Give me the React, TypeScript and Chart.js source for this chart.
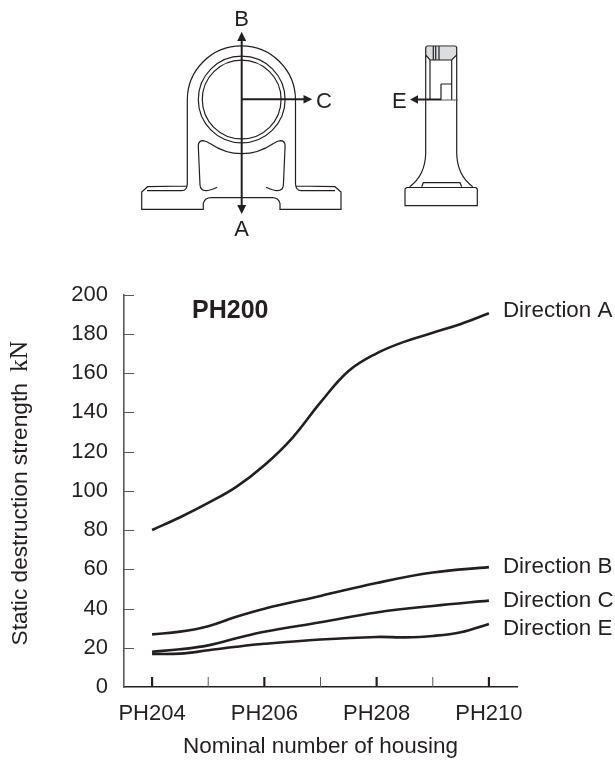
import React, { useEffect, useRef } from "react";
import { Chart, registerables } from "chart.js";

Chart.register(...registerables);

const SANS = '"Liberation Sans", Arial, sans-serif';
const INK = "#231f20";
const AXIS = "#58595b";

const housingTicks = [204, 205, 206, 207, 208, 209, 210];
const strengthTicks = [0, 20, 40, 60, 80, 100, 120, 140, 160, 180, 200];

const aX = [204, 204.5, 205, 205.5, 206, 206.5, 207, 207.5, 208, 208.5, 209, 209.5, 210];
const aY = [80, 86.5, 93.8, 102, 113, 127, 145, 161, 170, 176, 180.5, 185, 190.4];

const bX = [204, 204.5, 205, 205.5, 206, 207, 208, 209, 210];
const bY = [26.8, 28.2, 31, 35.8, 39.9, 46.4, 53, 58.3, 61.1];

const cX = [204, 204.5, 205, 205.5, 206, 207, 208, 209, 210];
const cY = [18, 19.2, 21.2, 24.8, 28.2, 33, 38, 41.3, 44];

const eX = [204, 204.5, 205, 205.5, 206, 207, 208, 208.5, 209, 209.5, 210];
const eY = [16.8, 17, 18.7, 20.5, 22, 24.2, 25.5, 25.3, 26, 27.9, 32.1];

const directionNames = ["Direction A", "Direction B", "Direction C", "Direction E"];
const directionLabelShift = [-3, 0, 0, 5];

const xTitle = "Nominal number of housing";
const yTitleSans = "Static destruction strength";
const yTitleUnit = "kN";
const seriesTag = "PH200";

const pts = (xs: number[], ys: number[]) => xs.map((x, i) => ({ x, y: ys[i] }));

const annotations = {
  id: "annotations",
  beforeDatasetsDraw(chart: any) {
    const { ctx, scales } = chart;
    const { x, y } = scales;
    ctx.save();
    ctx.strokeStyle = AXIS;
    ctx.lineWidth = 1;
    strengthTicks.slice(1).forEach((v) => {
      const py = Math.round(y.getPixelForValue(v)) + 0.5;
      ctx.beginPath();
      ctx.moveTo(x.left, py);
      ctx.lineTo(x.left + 10, py);
      ctx.stroke();
    });
    housingTicks.forEach((v) => {
      const px = x.getPixelForValue(v);
      ctx.strokeStyle = v % 2 === 0 ? INK : AXIS;
      ctx.lineWidth = v % 2 === 0 ? 2.2 : 1;
      ctx.beginPath();
      ctx.moveTo(px, y.bottom);
      ctx.lineTo(px, y.bottom - 10);
      ctx.stroke();
    });
    ctx.restore();
  },
  afterDraw(chart: any) {
    const { ctx, scales } = chart;
    ctx.save();
    ctx.fillStyle = INK;
    ctx.textBaseline = "middle";
    ctx.textAlign = "left";
    ctx.font = `22.4px ${SANS}`;
    chart.data.datasets.forEach((ds: any, i: number) => {
      const last = ds.data[ds.data.length - 1];
      const px = scales.x.getPixelForValue(last.x) + 14;
      const py = scales.y.getPixelForValue(last.y) + directionLabelShift[i];
      ctx.fillText(directionNames[i], px, py);
    });
    ctx.font = `bold 25px ${SANS}`;
    ctx.fillText(seriesTag, 192, 311);

    ctx.translate(27, 0);
    ctx.rotate(-Math.PI / 2);
    ctx.textBaseline = "alphabetic";
    ctx.font = `22.7px ${SANS}`;
    ctx.fillText(yTitleSans, -645.5, 0);
    ctx.font = `25.5px "Liberation Serif", "DejaVu Serif", serif`;
    ctx.fillText(yTitleUnit, -372, 0);
    ctx.restore();
  },
};

function Housing() {
  const stroke = { fill: "none", stroke: INK, strokeWidth: 1.2 };
  const textStyle: React.CSSProperties = { fontFamily: SANS, fontSize: 22, fill: INK };
  return (
    <svg width={615} height={260} style={{ position: "absolute", left: 0, top: 0 }}>
      {/* front view */}
      <path
        {...stroke}
        d="M187.3 184 L187.3 100 A54.1 54.1 0 0 1 295.5 100 L295.5 184 Q296 190.7 301 190.7 L335 190.7 M295.5 186 L335 186.7 L341 192 L341 209.3 L280 209.3 L280 203.3 Q278.4 197.7 272.4 197.7 L211 197.7 Q205 197.7 203.3 203.3 L203.3 209.3 L141.7 209.3 L141.7 192 L147.5 186.7 L187.3 186 M187.3 184 Q187 190.7 181.7 190.7 L147 190.7"
      />
      <circle {...stroke} cx={241.7} cy={99.5} r={43.4} />
      <circle {...stroke} cx={241.7} cy={99.5} r={39.4} />
      <path
        {...stroke}
        d="M217.3 187.3 Q210 190.7 206 190.7 Q200.5 190.7 200 185 L198.3 146 Q198.3 140.7 203 140.7 Q206 141 210 143.5 Q225 153.7 241.7 153.7 Q258.4 153.7 273.4 143.5 Q277.4 141 280.4 140.7 Q285.1 140.7 285.1 146 L283.4 185 Q282.9 190.7 277.4 190.7 Q273.4 190.7 266.1 187.3"
      />
      <line x1={241.7} y1={38} x2={241.7} y2={208} stroke={INK} strokeWidth={2} />
      <polygon points="241.7,31.7 237.2,41 246.2,41" fill={INK} />
      <polygon points="241.7,214 237.2,205 246.2,205" fill={INK} />
      <line x1={241.7} y1={99.3} x2={306} y2={99.3} stroke={INK} strokeWidth={2} />
      <polygon points="312.3,99.3 303.5,95 303.5,103.6" fill={INK} />
      <text x={241.7} y={25.5} textAnchor="middle" style={textStyle}>B</text>
      <text x={241.7} y={235.5} textAnchor="middle" style={textStyle}>A</text>
      <text x={316} y={107.5} style={textStyle}>C</text>

      {/* side view */}
      <path d="M426 47 L456.5 47 L456.5 55 L451.7 60 L430 60 L426 55 Z" fill="#dcddde" />
      <path
        {...stroke}
        d="M427.7 46 L454.7 46 Q456.7 46 456.7 48 L456.7 153 Q457 175 472.7 186.7 M427.7 46 Q425.7 46 425.7 48 L425.7 153 Q425.4 175 409.7 186.7 M425.7 55 L430 60 L451.7 60 L456.7 55 M430 60 L430 100 M451.7 60 L451.7 100 M441 84 L451.7 84 M441 84 L441 100 M433.3 46 L433.3 60 M435.7 46 L435.7 60 M439 46 L439 60"
      />
      <line x1={441} y1={100} x2={458} y2={100} stroke={AXIS} strokeWidth={1} />
      <path
        {...stroke}
        d="M406.5 187.5 L476 187.5 L477.3 189 L477.3 205.7 L405 205.7 L405 189 Z M421.7 186.7 L423.3 182.7 L460 182.7 L461.7 186.7"
      />
      <line x1={441} y1={99.5} x2={415} y2={99.5} stroke={INK} strokeWidth={2} />
      <polygon points="410,99.5 418,95.2 418,103.8" fill={INK} />
      <text x={392} y={107.5} style={textStyle}>E</text>
    </svg>
  );
}

export default function App() {
  const ref = useRef<HTMLCanvasElement>(null);
  useEffect(() => {
    const line = (label: string, xs: number[], ys: number[]) => ({
      label,
      data: pts(xs, ys),
      borderColor: INK,
      borderWidth: 2.6,
      pointRadius: 0,
      tension: 0.4,
      fill: false,
    });
    const chart = new Chart(ref.current!, {
      type: "line",
      data: {
        datasets: [
          line(directionNames[0], aX, aY),
          line(directionNames[1], bX, bY),
          line(directionNames[2], cX, cY),
          line(directionNames[3], eX, eY),
        ],
      },
      options: {
        responsive: false,
        animation: false,
        layout: { padding: { top: 294.5, right: 98, left: 0, bottom: 0 } },
        plugins: { legend: { display: false }, tooltip: { enabled: false } },
        scales: {
          x: {
            type: "linear",
            min: 203.5,
            max: 210.5,
            afterBuildTicks: (s: any) => {
              s.ticks = housingTicks.map((value) => ({ value }));
            },
            afterFit: (s: any) => {
              s.height = 73;
            },
            grid: { display: false, drawTicks: false },
            border: { display: true, color: INK, width: 1.4 },
            ticks: {
              autoSkip: false,
              maxRotation: 0,
              padding: 14,
              color: INK,
              font: { family: SANS, size: 22 },
              callback: (v: any) => (Number(v) % 2 === 0 ? `PH${v}` : ""),
            },
            title: {
              display: true,
              text: xTitle,
              color: INK,
              font: { family: SANS, size: 22.5 },
              padding: { top: -2, bottom: 0 },
            },
          },
          y: {
            type: "linear",
            min: 0,
            max: 200,
            afterBuildTicks: (s: any) => {
              s.ticks = strengthTicks.map((value) => ({ value }));
            },
            afterFit: (s: any) => {
              s.width = 124;
            },
            grid: { display: false, drawTicks: false },
            border: { display: true, color: AXIS, width: 1.6 },
            ticks: {
              padding: 16,
              color: INK,
              font: { family: SANS, size: 22 },
            },
          },
        },
      },
      plugins: [annotations],
    } as any);
    return () => chart.destroy();
  }, []);
  return (
    <div style={{ position: "fixed", left: 0, top: 0, width: 615, height: 760, background: "#fff" }}>
      <canvas ref={ref} width={615} height={760} style={{ display: "block" }} />
      <Housing />
    </div>
  );
}
